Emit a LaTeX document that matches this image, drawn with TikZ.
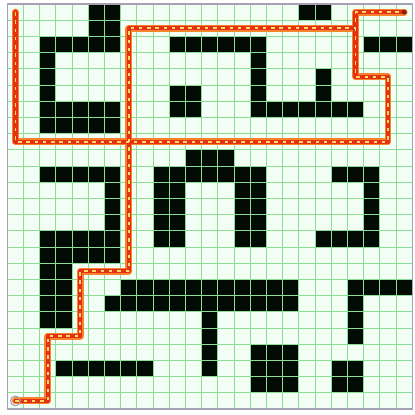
\documentclass[tikz,border=0pt]{standalone}
\begin{document}
\begin{tikzpicture}[x=12.15pt,y=-12.15pt]
\definecolor{cellbg}{RGB}{243,255,245}
\definecolor{gridln}{RGB}{140,222,150}
\definecolor{wallc}{RGB}{2,10,4}
\definecolor{bordc}{RGB}{165,160,180}
\definecolor{pathO}{RGB}{248,130,45}
\definecolor{pathM}{RGB}{228,48,20}
\definecolor{pathY}{RGB}{255,222,95}
\tikzset{
  wall/.style={fill=wallc,draw=none},
  gridlines/.style={draw=gridln,line width=0.7pt},
  pouter/.style={draw=pathO,line width=5.2pt,line join=round,line cap=round},
  pmid/.style={draw=pathM,line width=3.2pt,line join=round,line cap=round},
  pdash/.style={draw=pathY,line width=1.3pt,dash pattern=on 2.6pt off 3.6pt,line join=round},
}
\useasboundingbox (-0.4506,-0.2469) rectangle (25.105,25.37);
\fill[white] (-0.4506,-0.2469) rectangle (25.105,25.37);
\fill[cellbg] (0,0) rectangle (25,25);
% walls
\foreach \a/\b/\c/\d in {
 5/0/7/2, 2/2/7/3, 2/3/3/6, 2/6/7/8,
 10/2/16/3, 10/5/12/7, 15/3/16/7, 15/6/22/7, 19/4/20/6, 18/0/20/1, 22/2/25/3,
 2/10/7/11, 6/11/7/14, 2/14/7/16, 2/16/4/20,
 11/9/14/10, 9/10/16/11, 9/11/11/15, 14/11/16/15,
 20/10/23/11, 22/11/23/15, 19/14/23/15,
 7/17/18/18, 6/18/18/19, 12/19/13/23, 3/22/9/23, 15/21/18/24,
 21/17/25/18, 21/18/22/21, 20/22/22/24}
 {\fill[wall] (\a,\b) rectangle (\c,\d);}
% grid
\foreach \i in {1,...,24}{
  \draw[gridlines] (\i,0) -- (\i,25);
  \draw[gridlines] (0,\i) -- (25,\i);
}
\draw[draw=bordc,line width=1pt] (0,0) rectangle (25,25);
% path waypoints
\coordinate (s) at (0.5,24.5);
\coordinate (a1) at (2.5,24.5);
\coordinate (a2) at (2.5,20.5);
\coordinate (a3) at (4.5,20.5);
\coordinate (a4) at (4.5,16.5);
\coordinate (a5) at (7.5,16.5);
\coordinate (a6) at (7.5,1.5);
\coordinate (a7) at (21.5,1.5);
\coordinate (a8) at (21.5,0.5);
\coordinate (e) at (24.5,0.5);
\coordinate (b0) at (0.5,0.5);
\coordinate (b1) at (0.5,8.5);
\coordinate (b2) at (23.5,8.5);
\coordinate (b3) at (23.5,4.5);
\coordinate (b4) at (21.5,4.5);
\foreach \st in {pouter,pmid,pdash}{
  \draw[\st] (s) -- (a1) -- (a2) -- (a3) -- (a4) -- (a5) -- (a6) -- (a7) -- (a8) -- (e);
  \draw[\st] (b0) -- (b1) -- (b2) -- (b3) -- (b4) -- (a7);
}
\draw[draw=bordc,line width=0.8pt] (s) circle (0.3);
\fill[pathM!60!black] (e) circle (0.15);
\end{tikzpicture}
\end{document}
